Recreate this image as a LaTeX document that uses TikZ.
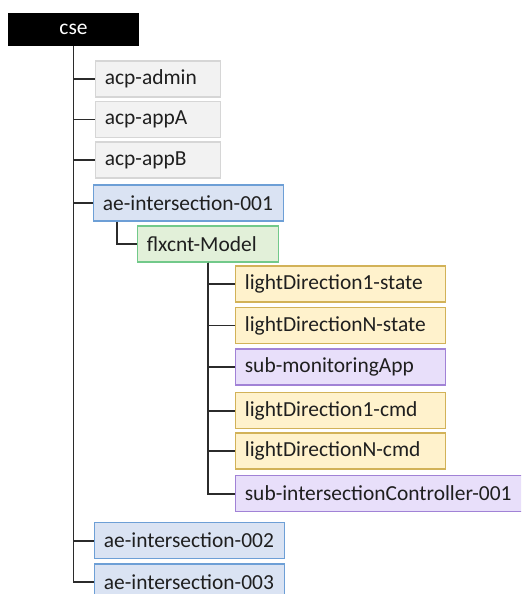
\documentclass[tikz,border=0pt]{standalone}
\usepackage{fontspec}
\setmainfont{Carlito}
\definecolor{grayfill}{HTML}{F2F2F2}
\definecolor{graydraw}{HTML}{D6D6D6}
\definecolor{bluefill}{HTML}{DAE3F3}
\definecolor{bluedraw}{HTML}{6D9FD6}
\definecolor{greenfill}{HTML}{E2F0D9}
\definecolor{greendraw}{HTML}{72C98A}
\definecolor{yellowfill}{HTML}{FFF2CC}
\definecolor{yellowdraw}{HTML}{D2B258}
\definecolor{purplefill}{HTML}{E8DFFA}
\definecolor{purpledraw}{HTML}{A182D6}
\definecolor{linegray}{HTML}{2B2B2B}
\begin{document}
\begin{tikzpicture}[
  x=0.03cm, y=-0.03cm,
  every node/.style={font=\fontsize{18.3}{22}\selectfont, text=black!88},
  res/.style={rectangle, draw, line width=0.9pt, anchor=west, minimum height=1.08cm,
    inner xsep=0.28cm, inner ysep=0pt, align=left},
  acp/.style={res, fill=grayfill, draw=graydraw, text width=3.75cm-0.56cm},
  ae/.style={res, fill=bluefill, draw=bluedraw, text width=5.7cm-0.56cm},
  flex/.style={res, fill=greenfill, draw=greendraw, text width=4.23cm-0.56cm},
  cin/.style={res, fill=yellowfill, draw=yellowdraw, text width=6.3cm-0.56cm},
  subs/.style={res, fill=purplefill, draw=purpledraw, text width=6.3cm-0.56cm},
  link/.style={draw=linegray, line width=1.7pt}
]
\clip (0,0) rectangle (521,594);
\fill[white] (0,0) rectangle (521,594);

\node[fill=black, text=white, minimum width=3.93cm, minimum height=1cm, inner sep=0pt] (cse) at (73.5,29.5) {cse};

\node[acp] (admin) at (95,79) {acp-admin};
\node[acp] (appA) at (95,119.5) {acp-appA};
\node[acp] (appB) at (95,160) {acp-appB};
\node[ae] (ae1) at (93,203) {ae-intersection-001};
\node[flex] (model) at (137,244) {flxcnt-Model};
\node[cin] (dir1state) at (235,284) {lightDirection1-state};
\node[cin] (dirNstate) at (235,325.5) {lightDirectionN-state};
\node[subs] (submon) at (235,367) {sub-monitoringApp};
\node[cin] (dir1cmd) at (235,410.5) {lightDirection1-cmd};
\node[cin] (dirNcmd) at (235,451) {lightDirectionN-cmd};
\node[subs, text width=9cm-0.56cm] (subctrl) at (235,493.5) {sub-intersectionController-001};
\node[ae] (ae2) at (94,540.5) {ae-intersection-002};
\node[ae] (ae3) at (94,582) {ae-intersection-003};

% tree links
\foreach \child in {admin,appA,appB,ae1,ae2,ae3}
  \draw[link] (cse.south) |- (\child.west);
\coordinate (aeroot) at ([xshift=0.72cm]ae1.south west);
\draw[link] (aeroot) |- (model.west);
\foreach \child in {dir1state,dirNstate,submon,dir1cmd,dirNcmd,subctrl}
  \draw[link] (model.south) |- (\child.west);
\end{tikzpicture}
\end{document}
